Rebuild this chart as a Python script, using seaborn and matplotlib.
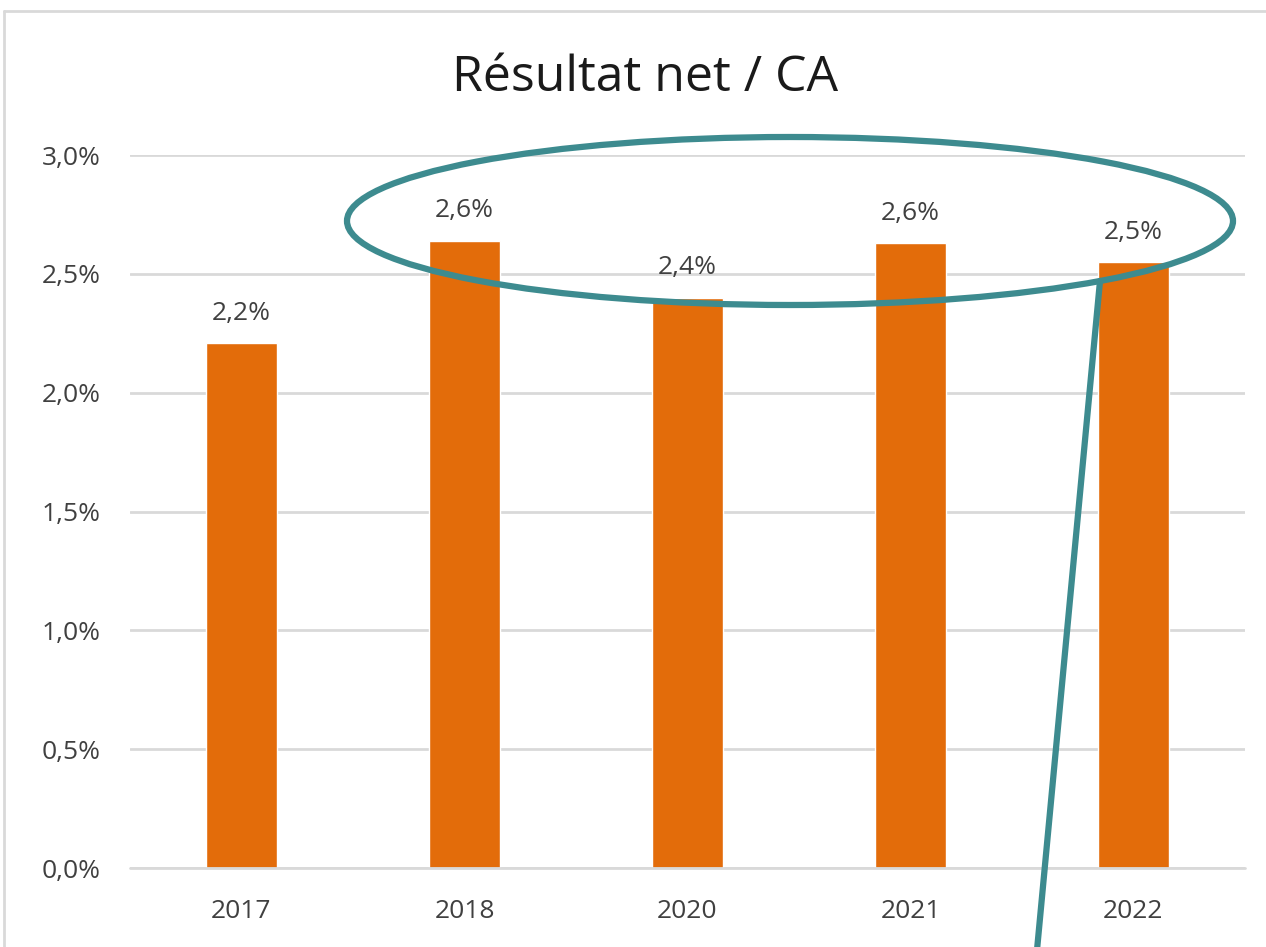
import matplotlib
matplotlib.use("Agg")
import matplotlib.pyplot as plt
import seaborn as sns
import pandas as pd
from matplotlib.patches import Ellipse
from matplotlib.lines import Line2D

years = ["2017", "2018", "2020", "2021", "2022"]
values = [2.21, 2.64, 2.40, 2.63, 2.55]
labels = ["2,2%", "2,6%", "2,4%", "2,6%", "2,5%"]
yticks = [0.0, 0.5, 1.0, 1.5, 2.0, 2.5, 3.0]
yticklabels = ["0,0%", "0,5%", "1,0%", "1,5%", "2,0%", "2,5%", "3,0%"]

sns.set_theme(style="white")
plt.rcParams['font.family'] = ['Open Sans', 'DejaVu Sans']

W, H = 1266, 947
fig = plt.figure(figsize=(W / 100, H / 100), dpi=100)
ax = fig.add_axes([130 / W, 1 - 868 / H, (1245 - 130) / W, (868 - 155) / H])

df = pd.DataFrame({"year": years, "value": values})
sns.barplot(data=df, x="year", y="value", color="#E36C0A", saturation=1,
            width=0.315, ax=ax, zorder=3)

ax.set_ylim(0, 3.0)
ax.set_xlim(-0.5, 4.5)
ax.set_yticks(yticks)
ax.set_yticklabels(yticklabels, fontsize=19, color="#404040")
ax.tick_params(axis="x", labelsize=19, colors="#404040", length=0, pad=22)
ax.tick_params(axis="y", length=0, pad=21)
ax.set_xlabel("")
ax.set_ylabel("")
ax.yaxis.grid(True, color="#d9d9d9", linewidth=2, zorder=0)
ax.set_axisbelow(True)
ax.axhline(0, color="#d9d9d9", linewidth=2, zorder=4, clip_on=False)
for s in ax.spines.values():
    s.set_visible(False)

for i, (v, lab) in enumerate(zip(values, labels)):
    ax.text(i, v + 0.125, lab, ha="center", va="center", fontsize=19, color="#404040")

fig.text(645 / W, 1 - 78 / H, "Résultat net / CA", ha="center", va="center",
         fontsize=36, color="#1a1a1a")

# light frame of the chart area
fig.add_artist(Line2D([4 / W, 1.0], [1 - 11 / H, 1 - 11 / H], transform=fig.transFigure,
                      color="#d9d9d9", linewidth=2))
fig.add_artist(Line2D([4 / W, 4 / W], [0, 1 - 11 / H], transform=fig.transFigure,
                      color="#d9d9d9", linewidth=2))

teal = "#3d8b8f"
fig.add_artist(Ellipse((790 / W, 1 - 221 / H), 886 / W, 168 / H, transform=fig.transFigure,
                       fill=False, edgecolor=teal, linewidth=4.5, zorder=10))
fig.add_artist(Line2D([1100 / W, 1037 / W], [1 - 281 / H, 1 - 950 / H],
                      transform=fig.transFigure, color=teal, linewidth=4.5, zorder=10))

fig.savefig("out.png", dpi=100, facecolor="white")
